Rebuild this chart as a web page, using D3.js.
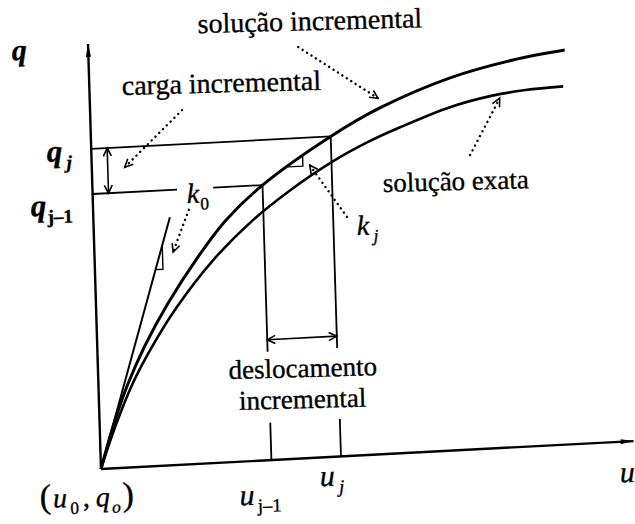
<!DOCTYPE html>
<html><head><meta charset="utf-8">
<script src="https://cdn.jsdelivr.net/npm/d3@7"></script>
<style>
html,body{margin:0;padding:0;background:#fff;}
svg{display:block;}
text{font-family:"Liberation Serif","Times New Roman",serif;fill:#000;stroke:#000;stroke-width:0.35px;}
</style></head><body>
<svg id="chart" width="635" height="524"></svg>
<script>
// Load–displacement diagram: incremental vs exact solution
// u = displacement, q = load (arbitrary units)
const incrementalU = [0, 0.25, 0.55, 0.9, 1.35, 1.92, 2.5, 3.2, 4.51, 5.45, 6.79, 7.98, 8.96];
const incrementalQ = [0, 0.98, 1.95, 2.85, 3.80, 4.82, 5.70, 6.47, 7.53, 8.14, 8.76, 9.10, 9.27];
const exataU = [0, 0.3, 0.65, 1.0, 1.5, 2.23, 3.0, 3.7, 4.52, 5.2, 5.82, 6.77, 7.53, 8.2, 8.91];
const exataQ = [0, 1.0, 1.98, 2.75, 3.68, 4.77, 5.66, 6.30, 6.93, 7.35, 7.66, 8.07, 8.28, 8.38, 8.42];
// initial tangent (stiffness k0)
const tangenteU = [0, 1.44];
const tangenteQ = [0, 5.83];
// step j: displacements u_{j-1}, u_j and loads q_{j-1}, q_j
const deslocamentos = [3.2, 4.51];
const cargas = [6.47, 7.53];
const rotulosU = [["u", "j–1"], ["u", "j"]];
const rotulosQ = [["q", "j–1"], ["q", "j"]];

const svg = d3.select("#chart");
svg.append("rect").attr("width", 635).attr("height", 524).attr("fill", "#fff");

// the drawing frame is slightly tilted
const aU = 3.0 * Math.PI / 180, aQ = 1.75 * Math.PI / 180;
const ox = 101, oy = 469;
const g = svg.append("g")
  .attr("transform", `matrix(${Math.cos(aU)},${-Math.sin(aU)},${Math.sin(aQ)},${Math.cos(aQ)},${ox},${oy})`);

const x = d3.scaleLinear().domain([0, 10]).range([0, 531.7]);
const y = d3.scaleLinear().domain([0, 10]).range([0, -425.2]);
// page position of a (u, q) point, for the labels
const P = (u, q) => [
  ox + Math.cos(aU) * x(u) + Math.sin(aQ) * y(q),
  oy - Math.sin(aU) * x(u) + Math.cos(aQ) * y(q)
];

const defs = svg.append("defs");
defs.append("marker").attr("id", "seta")
  .attr("markerUnits", "userSpaceOnUse").attr("viewBox", "-10 -6 12 12")
  .attr("refX", 0).attr("refY", 0).attr("markerWidth", 12).attr("markerHeight", 12)
  .attr("orient", "auto-start-reverse")
  .append("path").attr("d", "M-8,-4 L0,0 L-8,4").attr("fill", "none")
  .attr("stroke", "#000").attr("stroke-width", 1.6);
defs.append("marker").attr("id", "setaEixo")
  .attr("markerUnits", "userSpaceOnUse").attr("viewBox", "-14 -4 16 8")
  .attr("refX", 0).attr("refY", 0).attr("markerWidth", 16).attr("markerHeight", 8)
  .attr("orient", "auto")
  .append("path").attr("d", "M-13,-2.6 L0,0 L-13,2.6 Z").attr("fill", "#000");

// axes
g.append("line").attr("x1", x(0)).attr("y1", y(0)).attr("x2", x(10.03)).attr("y2", y(0))
  .attr("stroke", "#000").attr("stroke-width", 2.4).attr("marker-end", "url(#setaEixo)");
g.append("line").attr("x1", x(0)).attr("y1", y(0)).attr("x2", x(0)).attr("y2", y(10))
  .attr("stroke", "#000").attr("stroke-width", 2.4).attr("marker-end", "url(#setaEixo)");

// tick marks at u_{j-1}, u_j
const eixoU = d3.axisBottom(x).tickValues(deslocamentos)
  .tickSize(y(0.88) - y(0)).tickFormat("");
const gEixo = g.append("g").call(eixoU);
gEixo.select(".domain").remove();
gEixo.selectAll(".tick line").attr("stroke", "#000").attr("stroke-width", 1.8);

// curves
const linha = d3.line().x(d => x(d[0])).y(d => y(d[1])).curve(d3.curveCatmullRom.alpha(0.5));
g.append("path").datum(d3.zip(exataU, exataQ)).attr("d", linha)
  .attr("fill", "none").attr("stroke", "#000").attr("stroke-width", 2.6);
g.append("path").datum(d3.zip(incrementalU, incrementalQ)).attr("d", linha)
  .attr("fill", "none").attr("stroke", "#000").attr("stroke-width", 3);

// initial tangent k0
g.append("line").attr("x1", x(tangenteU[0])).attr("y1", y(tangenteQ[0]))
  .attr("x2", x(tangenteU[1])).attr("y2", y(tangenteQ[1]))
  .attr("stroke", "#000").attr("stroke-width", 2);

const seg = (u1, q1, u2, q2, w) => g.append("line")
  .attr("x1", x(u1)).attr("y1", y(q1)).attr("x2", x(u2)).attr("y2", y(q2))
  .attr("stroke", "#000").attr("stroke-width", w || 1.8);

// load levels q_{j-1} (broken around the k0 label) and q_j
seg(0, cargas[0], 1.59, cargas[0]);
seg(2.27, cargas[0], deslocamentos[0], cargas[0]);
seg(0, cargas[1], deslocamentos[1], cargas[1]);

// verticals from the step points
deslocamentos.forEach((u, i) => seg(u, cargas[i], u, 2.55));

// incremental load and displacement arrows
seg(0.30, cargas[0], 0.30, cargas[1], 1.6).attr("marker-start", "url(#seta)").attr("marker-end", "url(#seta)");
seg(deslocamentos[0], 2.83, deslocamentos[1], 2.83, 1.6).attr("marker-start", "url(#seta)").attr("marker-end", "url(#seta)");

// slope triangles
const tri = pts => g.append("path")
  .attr("d", d3.line().x(d => x(d[0])).y(d => y(d[1]))(pts))
  .attr("fill", "none").attr("stroke", "#000").attr("stroke-width", 1.4);
const k0 = tangenteQ[1] / tangenteU[1];
tri([[1.14, 1.14 * k0], [1.28, 1.14 * k0], [1.28, 1.28 * k0]]);
const kj = (cargas[1] - cargas[0]) / (deslocamentos[1] - deslocamentos[0]);
const qa = cargas[0] + (3.69 - deslocamentos[0]) * kj, qb = cargas[0] + (3.97 - deslocamentos[0]) * kj;
tri([[3.69, qa], [3.97, qa], [3.97, qb]]);

// dotted leaders with open arrow heads
function guia(u1, q1, u2, q2) {
  g.append("line").attr("x1", x(u1)).attr("y1", y(q1)).attr("x2", x(u2)).attr("y2", y(q2))
    .attr("stroke", "#000").attr("stroke-width", 2.4)
    .attr("stroke-dasharray", "0.1,5.2").attr("stroke-linecap", "round");
  const dx = x(u2) - x(u1), dy = y(q2) - y(q1), L = Math.hypot(dx, dy);
  g.append("line").attr("x1", x(u2) - dx / L * 6).attr("y1", y(q2) - dy / L * 6)
    .attr("x2", x(u2)).attr("y2", y(q2)).attr("stroke", "none")
    .attr("marker-end", "url(#seta)");
}
guia(3.95, 9.67, 5.42, 8.37);
guia(1.73, 8.33, 0.62, 7.06);
guia(7.12, 6.92, 7.71, 8.22);
guia(1.80, 5.98, 1.48, 5.01);
guia(4.77, 5.62, 4.10, 6.88);

// text (slightly tilted like the drawing)
const rot = -1.5;
const rotulo = (u, q) => {
  const [px, py] = P(u, q);
  return svg.append("text").attr("transform", `translate(${px},${py}) rotate(${rot})`);
};
const texto = (u, q, t, size, anchor) => rotulo(u, q)
  .attr("font-size", size).attr("text-anchor", anchor || "start").text(t);
texto(2.07, 10.12, "solução incremental", 28);
texto(0.61, 8.76, "carga incremental", 28);
texto(5.46, 6.16, "solução exata", 27);
texto(3.85, 1.91, "deslocamento", 27, "middle");
texto(3.83, 1.18, "incremental", 27, "middle");

function simbolo(u, q, partes, size, anchor, bold) {
  const t = rotulo(u, q)
    .attr("font-size", size).attr("text-anchor", anchor || "start")
    .attr("font-style", "italic").attr("font-weight", bold ? "bold" : "normal");
  let emSub = false;
  partes.forEach(p => {
    const s = t.append("tspan").text(p.t);
    if (p.sub && !emSub) s.attr("dy", size * 0.24);
    if (!p.sub && emSub) s.attr("dy", -size * 0.24);
    if (p.dx) s.attr("dx", p.dx);
    if (p.sub) s.attr("font-size", size * 0.62);
    if (p.up) s.attr("font-style", "normal");
    if (p.size) s.attr("font-size", p.size);
    emSub = !!p.sub;
  });
  return t;
}
simbolo(-1.44, 9.71, [{t: "q"}], 30, "start", true);
simbolo(-0.37, 7.27, [{t: rotulosQ[1][0]}, {t: rotulosQ[1][1], sub: true, dx: 4}], 31, "end", true);
simbolo(-0.38, 6.00, [{t: rotulosQ[0][0]}, {t: rotulosQ[0][1], sub: true, up: true, dx: 1}], 31, "end", true);
simbolo(1.77, 6.14, [{t: "k"}, {t: "0", sub: true, up: true, dx: 1}], 28);
simbolo(4.95, 5.18, [{t: "k"}, {t: "j", sub: true, dx: 4}], 28);
simbolo(2.59, -1.02, [{t: rotulosU[0][0]}, {t: rotulosU[0][1], sub: true, up: true, dx: 3}], 30);
simbolo(4.11, -0.67, [{t: rotulosU[1][0]}, {t: rotulosU[1][1], sub: true, dx: 4}], 30);
simbolo(9.75, -0.95, [{t: "u"}], 30);
simbolo(-1.17, -0.84, [
  {t: "(", up: true, size: 34}, {t: "u", dx: 2}, {t: "0", sub: true, up: true, dx: 3},
  {t: ",", up: true, dx: 4}, {t: "q", dx: 6}, {t: "o", sub: true, dx: 2}, {t: ")", up: true, size: 34, dx: 2}
], 28);
</script>
</body></html>
